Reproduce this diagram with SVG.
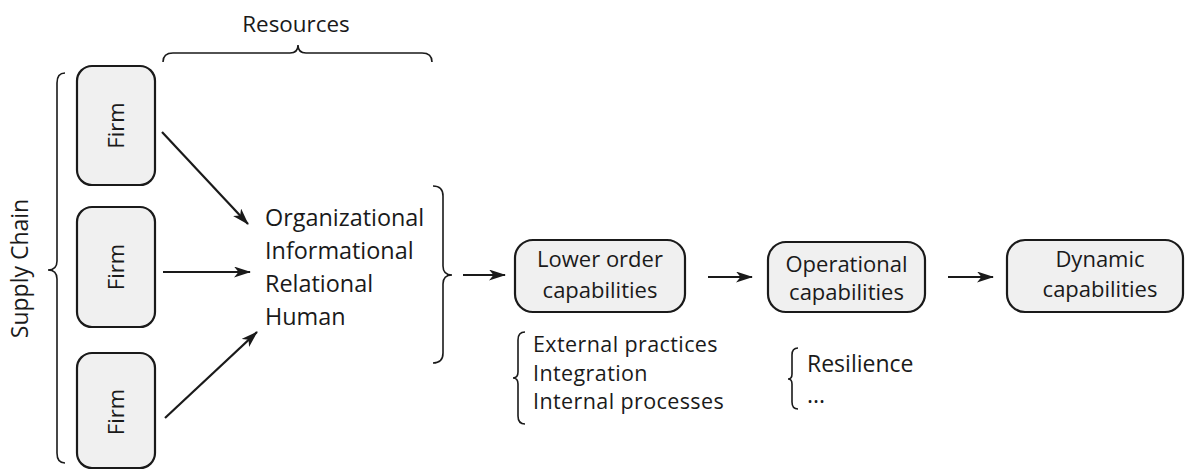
<svg xmlns="http://www.w3.org/2000/svg" width="1185" height="470" viewBox="0 0 1185 470">
<defs>
<marker id="ah" markerWidth="17" markerHeight="11" refX="16" refY="5.5" orient="auto" markerUnits="userSpaceOnUse">
<path d="M0,0 L17,5.5 L0,11 L4.5,5.5 Z" fill="#1a1a1a"/>
</marker>
<style>
.box{fill:#f0f0f0;stroke:#1a1a1a;stroke-width:2.2}
.t{font-family:"Open Sans","DejaVu Sans",sans-serif;fill:#1a1a1a}
.brace{fill:none;stroke:#1a1a1a;stroke-width:1.6}
.arr{fill:none;stroke:#1a1a1a;stroke-width:2.2;marker-end:url(#ah)}
</style>
</defs>
<rect width="1185" height="470" fill="#ffffff"/>

<g id="supply-chain">
<path class="brace" d="M65,73 Q57,73 57,83 L57,261 Q57,270 48,270 Q57,270 57,279 L57,453 Q57,463 65,463"/>
<text class="t" font-size="23" text-anchor="middle" transform="translate(28,268.5) rotate(-90)">Supply Chain</text>
</g>

<g id="resources-label">
<path class="brace" d="M163,62 Q163,53 173,53 L290,53 Q298,53 298,45 Q298,53 306,53 L422,53 Q432,53 432,62"/>
<text class="t" font-size="22.4" text-anchor="middle" x="296" y="32">Resources</text>
</g>

<g id="firm1">
<rect class="box" x="77" y="66" width="78" height="119" rx="15"/>
<text class="t" font-size="22" text-anchor="middle" transform="translate(124,125.5) rotate(-90)">Firm</text>
</g>
<g id="firm2">
<rect class="box" x="77" y="207" width="78" height="120" rx="15"/>
<text class="t" font-size="22" text-anchor="middle" transform="translate(124,267) rotate(-90)">Firm</text>
</g>
<g id="firm3">
<rect class="box" x="77" y="353" width="78" height="115" rx="15"/>
<text class="t" font-size="22" text-anchor="middle" transform="translate(124,412) rotate(-90)">Firm</text>
</g>

<g id="resources-list">
<text class="t" font-size="23.4" x="265" y="226">Organizational</text>
<text class="t" font-size="23.4" x="265" y="259">Informational</text>
<text class="t" font-size="23.4" x="265" y="292">Relational</text>
<text class="t" font-size="23.4" x="265" y="325">Human</text>
<path class="brace" d="M433,186 Q443,186 443,196 L443,266 Q443,275 452,275 Q443,275 443,284 L443,353 Q443,363 433,363"/>
</g>

<g id="lower-order">
<rect class="box" x="515" y="240" width="170" height="72" rx="18"/>
<text class="t" font-size="22" text-anchor="middle" x="600" y="267">Lower order</text>
<text class="t" font-size="22" text-anchor="middle" x="600" y="298">capabilities</text>
</g>

<g id="lower-order-list">
<path class="brace" d="M525,332 Q518,332 518,340 L518,372 Q518,378 513,378 Q518,378 518,384 L518,416 Q518,424 525,424"/>
<text class="t" font-size="21.5" letter-spacing="0.4" x="533" y="352">External practices</text>
<text class="t" font-size="21.5" letter-spacing="0.4" x="533" y="380.5">Integration</text>
<text class="t" font-size="21.5" letter-spacing="0.4" x="533" y="409">Internal processes</text>
</g>

<g id="operational">
<rect class="box" x="768" y="242" width="157" height="70" rx="18"/>
<text class="t" font-size="22" text-anchor="middle" x="846.5" y="272">Operational</text>
<text class="t" font-size="22" text-anchor="middle" x="846.5" y="300">capabilities</text>
</g>

<g id="operational-list">
<path class="brace" d="M798,348 Q792,348 792,355 L792,374 Q792,379 788,379 Q792,379 792,384 L792,402 Q792,409 798,409"/>
<text class="t" font-size="23" x="807" y="372">Resilience</text>
<text class="t" font-size="23" x="807" y="403">...</text>
</g>

<g id="dynamic">
<rect class="box" x="1007" y="240" width="176" height="72" rx="18"/>
<text class="t" font-size="22" text-anchor="middle" x="1100" y="267">Dynamic</text>
<text class="t" font-size="22" text-anchor="middle" x="1100" y="297">capabilities</text>
</g>

<g id="connectors">
<line class="arr" x1="162" y1="132" x2="248" y2="224"/>
<line class="arr" x1="163" y1="272" x2="250" y2="272"/>
<line class="arr" x1="165" y1="418" x2="257" y2="332"/>
<line class="arr" x1="463" y1="275" x2="505" y2="275"/>
<line class="arr" x1="708" y1="277" x2="752" y2="277"/>
<line class="arr" x1="948" y1="277" x2="993" y2="277"/>
</g>
</svg>
